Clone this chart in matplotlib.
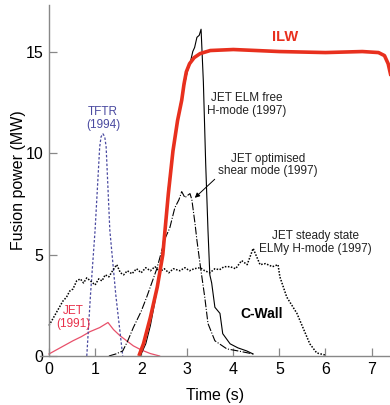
import numpy as np
import matplotlib.pyplot as plt

# ---- data (time in s, fusion power in MW) ----
ilw_t = [1.95, 2.05, 2.2, 2.35, 2.47, 2.59, 2.69, 2.79, 2.88, 2.93, 2.98, 3.05, 3.15, 3.28, 3.5, 4.0, 5.0, 6.0, 6.8, 7.15, 7.28, 7.36, 7.42]
ilw_p = [0.0, 0.6, 1.9, 3.4, 5.0, 8.0, 10.1, 11.6, 12.6, 13.4, 14.0, 14.4, 14.7, 14.9, 15.05, 15.1, 15.0, 14.95, 15.0, 14.95, 14.8, 14.4, 13.8]

elmfree_t = [1.98, 2.1, 2.2, 2.3, 2.4, 2.5, 2.6, 2.7, 2.85, 3.0, 3.06, 3.12, 3.16, 3.21, 3.26, 3.3, 3.35, 3.4, 3.45, 3.49, 3.53, 3.6, 3.71, 3.77, 3.93, 4.1, 4.29, 4.43]
elmfree_p = [0.0, 0.6, 1.5, 2.7, 4.0, 6.0, 8.5, 10.4, 12.4, 14.0, 14.4, 15.0, 15.2, 15.7, 15.8, 16.1, 13.5, 9.5, 6.2, 4.0, 3.6, 2.4, 2.1, 1.1, 0.6, 0.4, 0.25, 0.1]

optshear_t = [1.3, 1.45, 1.6, 1.7, 1.83, 2.0, 2.12, 2.34, 2.52, 2.62, 2.73, 2.82, 2.88, 2.95, 3.0, 3.06, 3.1, 3.17, 3.21, 3.28, 3.38, 3.45, 3.6, 3.86, 4.1, 4.43]
optshear_p = [0.0, 0.1, 0.25, 0.7, 1.4, 2.2, 2.9, 4.3, 5.8, 6.3, 7.3, 7.7, 8.1, 7.8, 7.9, 8.0, 7.7, 6.5, 5.7, 4.5, 2.9, 1.6, 0.75, 0.35, 0.25, 0.1]

steady_t = [0.0, 0.1, 0.2, 0.3, 0.38, 0.45, 0.52, 0.6, 0.68, 0.75, 0.82, 0.9, 1.0, 1.08, 1.15, 1.22, 1.3, 1.38, 1.47, 1.55, 1.62, 1.7, 1.8, 1.9, 2.0, 2.1, 2.2, 2.3, 2.4, 2.5,
            2.6, 2.7, 2.84, 2.95, 3.05, 3.15, 3.28, 3.38, 3.49, 3.6, 3.7, 3.8, 3.93, 4.05, 4.18, 4.3, 4.43, 4.58, 4.7, 4.85, 4.97, 5.01, 5.16, 5.27, 5.38, 5.51, 5.66, 5.81, 5.99]
steady_p = [1.5, 1.9, 2.3, 2.7, 2.9, 3.2, 3.3, 3.7, 3.8, 3.6, 3.85, 3.7, 3.5, 3.8, 3.7, 4.0, 3.9, 4.2, 4.5, 4.1, 4.0, 4.2, 4.05, 4.3, 4.1, 4.35, 4.2, 4.4, 4.15, 4.3,
            4.1, 4.3, 4.2, 4.35, 4.2, 4.3, 4.35, 4.2, 4.1, 4.3, 4.25, 4.4, 4.4, 4.3, 4.7, 4.5, 5.3, 4.5, 4.55, 4.4, 4.5, 3.9, 2.9, 2.5, 2.1, 1.4, 0.6, 0.15, 0.05]

tftr_t = [0.82, 0.9, 1.0, 1.1, 1.13, 1.17, 1.21, 1.24, 1.32, 1.45, 1.6]
tftr_p = [0.0, 3.0, 6.2, 10.3, 10.8, 10.95, 10.8, 10.3, 6.2, 3.0, 0.0]

jet91_t = [0.0, 0.24, 0.52, 0.7, 0.89, 1.1, 1.28, 1.4, 1.54, 1.83, 2.0, 2.2, 2.4]
jet91_p = [0.1, 0.4, 0.75, 0.95, 1.2, 1.4, 1.65, 1.3, 1.0, 0.5, 0.3, 0.12, 0.0]

xticks = [0, 1, 2, 3, 4, 5, 6, 7]
yticks = [0, 5, 10, 15]

plt.rcParams['font.family'] = ['Liberation Sans', 'DejaVu Sans']

fig = plt.figure(figsize=(3.9, 4.05), dpi=100)
ax = fig.add_axes([0.102, 0.121, 0.898, 0.867])

ax.plot(jet91_t, jet91_p, color='#e8506a', lw=0.9)
ax.plot(tftr_t, tftr_p, color='#4a4aa0', lw=0.9, ls=(0, (2, 1.5)))
ax.plot(steady_t, steady_p, color='black', lw=1.1, ls=(0, (1, 1)))
ax.plot(optshear_t, optshear_p, color='black', lw=0.8, ls=(0, (7, 1.5, 1, 1.5)))
ax.plot(elmfree_t, elmfree_p, color='black', lw=0.8)
ax.plot(ilw_t, ilw_p, color='#e8301e', lw=2.6, solid_capstyle='butt')

txt = dict(fontsize=8.5, ha='center', va='center', linespacing=1.05)
ax.text(1.17, 11.7, 'TFTR\n(1994)', color='#4a4aa0', **txt)
ax.text(0.52, 1.9, 'JET\n(1991)', color='#e8304a', **txt)
ax.text(4.3, 12.4, 'JET ELM free\nH-mode (1997)', color='#222222', **txt)
ax.text(4.75, 9.4, 'JET optimised\nshear mode (1997)', color='#222222', **txt)
ax.text(5.79, 5.6, 'JET steady state\nELMy H-mode (1997)', color='#222222', **txt)
ax.text(4.62, 2.05, 'C-Wall', color='black', fontsize=10, fontweight='bold', ha='center', va='center')
ax.text(5.12, 15.7, 'ILW', color='#e8301e', fontsize=10.5, fontweight='bold', ha='center', va='center')

ax.annotate('', xy=(3.12, 7.7), xytext=(3.64, 8.8),
            arrowprops=dict(arrowstyle='-|>', color='black', lw=0.7, mutation_scale=7))

ax.set_xlim(-0.2, 7.4)
ax.set_ylim(0, 17.3)
ax.set_xticks(xticks)
ax.set_yticks(yticks)
ax.spines['left'].set_position(('data', 0))
ax.spines['top'].set_visible(False)
ax.spines['right'].set_visible(False)
for s in ['left', 'bottom']:
    ax.spines[s].set_color('#888888')
    ax.spines[s].set_linewidth(1.0)
ax.tick_params(direction='in', length=6, width=0.9, color='#888888', labelsize=11.5, pad=4)

ax.set_xlabel('Time (s)', fontsize=11.5, labelpad=8)
ax.set_ylabel('Fusion power (MW)', fontsize=11.5, labelpad=0)

fig.savefig('out.png', dpi=100)
